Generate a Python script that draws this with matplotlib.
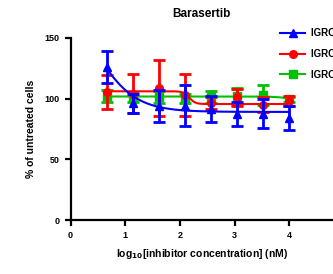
import numpy as np
import matplotlib
matplotlib.use("Agg")
import matplotlib.pyplot as plt

# log10 of the inhibitor concentrations (nM)
log_conc = [0.66, 1.14, 1.61, 2.09, 2.57, 3.05, 3.52, 4.0]

# series: mean and error (% of untreated cells)
labels = ["IGROV1 wt", "IGROV1 R1", "IGROV1 R2"]
colors = ["#0000ff", "#ff0000", "#00c000"]
markers = ["^", "o", "s"]

blue_mean = [126, 96, 94, 94, 91.5, 87.5, 87.5, 84]
blue_err = [13.5, 8, 13, 17, 11, 10, 12, 10]
red_mean = [105.5, 104, 108.5, 103, 96, 101, 95, 98]
red_err = [14, 16, 23, 17, 5, 7, 6, 4]
green_mean = [102, 101, 101, 100, 101, 102, 103, 99.5]
green_err = [5, 4, 5, 4, 5, 7, 8, 2]

# fitted 4PL curve parameters: top, bottom, logIC50, hill
blue_fit = (200, 89, 0.38, 1.15)
red_fit = (106, 95.5, 2.17, 8)
green_fit = (101.7, 99.3, 3.95, 3)

means = [blue_mean, red_mean, green_mean]
errs = [blue_err, red_err, green_err]
fits = [blue_fit, red_fit, green_fit]


def four_pl(x, top, bottom, logic50, hill):
    return bottom + (top - bottom) / (1 + 10 ** ((x - logic50) * hill))


plt.rcParams['font.family'] = ['Liberation Sans', 'DejaVu Sans']
plt.rcParams['font.weight'] = 'bold'

fig = plt.figure(figsize=(3.33, 2.74), dpi=100)
ax = fig.add_axes([0.212, 0.197, 0.788, 0.665])

xs = np.linspace(log_conc[0], log_conc[-1], 300)
# blue drawn on top, then red, then green underneath
for i in range(3):
    z = 3 - i
    ax.plot(xs, four_pl(xs, *fits[i]), color=colors[i], lw=1.5, zorder=z)
    ax.errorbar(log_conc, means[i], yerr=errs[i], fmt=markers[i], color=colors[i],
                ms=5.5, elinewidth=2, capsize=4, capthick=2, zorder=z + 0.5)

# legend handles: line + marker
for i in range(3):
    ax.plot([], [], color=colors[i], marker=markers[i], ms=5.5, lw=1.5, label=labels[i])

ax.set_xlim(0, 4.8)
ax.set_ylim(0, 150)
ax.set_xticks([0, 1, 2, 3, 4])
ax.set_yticks([0, 50, 100, 150])
ax.spines['top'].set_visible(False)
ax.spines['right'].set_visible(False)
ax.spines['left'].set_linewidth(1.6)
ax.spines['bottom'].set_linewidth(1.6)
ax.tick_params(width=1.6, length=4, labelsize=6.5, pad=4)

ax.set_title("Barasertib", fontsize=8.5, fontweight='bold', pad=15)
ax.set_ylabel("% of untreated cells", fontsize=7.5, fontweight='bold', labelpad=6)
ax.set_xlabel(r"log$_{\mathbf{10}}$[inhibitor concentration] (nM)", fontsize=7.5,
              fontweight='bold', labelpad=5)

ax.legend(loc='upper left', bbox_to_anchor=(0.765, 1.1), frameon=False,
          fontsize=7, handlelength=2.6, labelspacing=1.1, handletextpad=0.6)

fig.savefig("out.png", dpi=100)
